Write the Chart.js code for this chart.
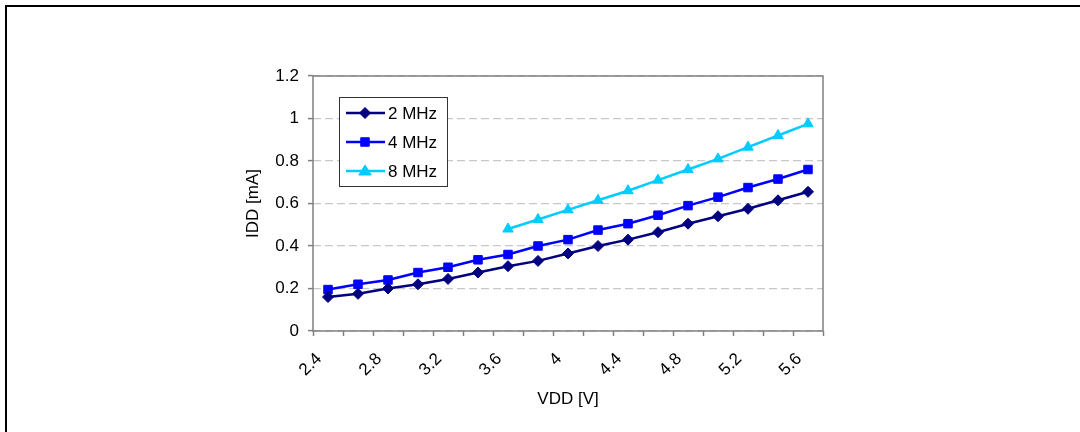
<!DOCTYPE html>
<html><head><meta charset="utf-8">
<script src="https://cdn.jsdelivr.net/npm/chart.js@4/dist/chart.umd.min.js"></script>
<style>
html,body{margin:0;padding:0;background:#fff;}
#wrap{position:relative;width:1080px;height:432px;overflow:hidden;background:#fff;}
#frame{position:absolute;left:5px;top:5px;width:1200px;height:600px;border-top:2px solid #000;border-left:2px solid #000;}
canvas{position:absolute;left:0;top:0;}
</style></head><body>
<div id="wrap"><div id="frame"></div><canvas id="c" width="1080" height="432"></canvas></div>
<script>
// ---- data ----
const categories = ['2.4','2.6','2.8','3','3.2','3.4','3.6','3.8','4','4.2','4.4','4.6','4.8','5','5.2','5.4','5.6'];
const shownTickLabels = ['2.4','2.8','3.2','3.6','4','4.4','4.8','5.2','5.6'];
const seriesNames = ['2 MHz','4 MHz','8 MHz'];
const idd2MHz = [0.16,0.175,0.2,0.22,0.245,0.275,0.305,0.33,0.365,0.4,0.43,0.465,0.505,0.54,0.575,0.615,0.655];
const idd4MHz = [0.195,0.22,0.24,0.275,0.3,0.335,0.36,0.4,0.43,0.475,0.505,0.545,0.59,0.63,0.675,0.715,0.76];
const idd8MHz = [null,null,null,null,null,null,0.48,0.525,0.57,0.615,0.66,0.71,0.76,0.81,0.865,0.92,0.975];
const yMin = 0, yMax = 1.2, yStep = 0.2;
const xTitle = 'VDD [V]';
const yTitle = 'IDD [mA]';

const FONT = "'Liberation Sans', Arial, sans-serif";
const colors = ['#000080','#0000FF','#00CCFF'];
const styles = ['rectRot','rect','triangle'];
const radii = [5.5,6,6];

function marker(ctx, style, x, y, r, color){
  ctx.save();
  ctx.fillStyle = color; ctx.strokeStyle = color; ctx.lineWidth = 1;
  ctx.beginPath();
  if (style === 'rectRot'){
    ctx.moveTo(x, y - r); ctx.lineTo(x + r, y); ctx.lineTo(x, y + r); ctx.lineTo(x - r, y); ctx.closePath();
  } else if (style === 'rect'){
    const s = r * Math.SQRT1_2; ctx.rect(x - s, y - s, 2*s, 2*s);
  } else {
    ctx.moveTo(x, y - r); ctx.lineTo(x + r*0.866 + 1, y + r*0.5 + 1); ctx.lineTo(x - r*0.866 - 1, y + r*0.5 + 1); ctx.closePath();
  }
  ctx.fill(); ctx.stroke();
  ctx.restore();
}

const framePlugin = {
  id:'plotFrame',
  beforeDatasetsDraw(chart){
    const {ctx, chartArea:a} = chart;
    ctx.save();
    ctx.strokeStyle = '#808080'; ctx.lineWidth = 1.5;
    ctx.strokeRect(a.left, a.top, a.right - a.left, a.bottom - a.top);
    ctx.restore();
  }
};

const legendPlugin = {
  id:'boxLegend',
  afterDraw(chart){
    const ctx = chart.ctx;
    const bx = 339, by = 97, bw = 108, bh = 89;
    ctx.save();
    ctx.fillStyle = '#fff';
    ctx.fillRect(bx, by, bw, bh);
    ctx.strokeStyle = '#333'; ctx.lineWidth = 1;
    ctx.strokeRect(bx + 0.5, by + 0.5, bw, bh);
    chart.data.datasets.forEach((ds, i) => {
      const yy = 113 + i * 29;
      ctx.strokeStyle = ds.borderColor; ctx.lineWidth = 2.5;
      ctx.beginPath(); ctx.moveTo(346, yy); ctx.lineTo(385, yy); ctx.stroke();
      marker(ctx, styles[i], 365, yy, radii[i], ds.borderColor);
      ctx.fillStyle = '#000'; ctx.font = '17px ' + FONT;
      ctx.textBaseline = 'middle'; ctx.textAlign = 'left';
      ctx.fillText(ds.label, 388, yy + 1);
    });
    ctx.restore();
  }
};

const series = [idd2MHz, idd4MHz, idd8MHz];
const datasets = series.map((d, i) => ({
  label: seriesNames[i], data: d,
  borderColor: colors[i], backgroundColor: colors[i],
  pointBackgroundColor: colors[i], pointBorderColor: colors[i],
  pointStyle: styles[i], pointRadius: radii[i], pointBorderWidth: 1,
  borderWidth: 2.5, tension: 0, spanGaps: false, fill: false
}));

new Chart(document.getElementById('c'), {
  type: 'line',
  data: { labels: categories, datasets },
  options: {
    responsive: false, animation: false, devicePixelRatio: 1,
    layout: { padding: { left: 240, right: 257, top: 76, bottom: 22 } },
    plugins: { legend: { display: false }, tooltip: { enabled: false }, title: { display: false } },
    scales: {
      x: {
        type: 'category', offset: true,
        grid: { offset: true, drawOnChartArea: false, drawTicks: true, tickLength: 5, tickColor: '#808080', tickWidth: 1.5 },
        border: { display: false },
        ticks: {
          autoSkip: false, maxRotation: 45, minRotation: 45, padding: 13, labelOffset: -9, color: '#000',
          font: { family: FONT, size: 17 },
          callback: function(v, i){ const l = categories[i]; return shownTickLabels.includes(l) ? l : ''; }
        },
        title: { display: true, text: xTitle, color: '#000', font: { family: FONT, size: 17 }, padding: 0 },
        afterFit: s => { s.height = 79; }
      },
      y: {
        min: yMin, max: yMax,
        ticks: { stepSize: yStep, padding: 9, color: '#000', font: { family: FONT, size: 17 },
          callback: v => String(Math.round(v * 10) / 10) },
        grid: { color: '#c8c8c8', lineWidth: 1.2, drawTicks: true, tickLength: 5, tickColor: '#808080', tickWidth: 1.5, tickBorderDash: [] },
        border: { display: false, dash: [8, 4] },
        title: { display: true, text: yTitle, color: '#000', font: { family: FONT, size: 17 }, padding: { top: 3, bottom: 0 } },
        afterFit: s => { s.width = 73; }
      }
    }
  },
  plugins: [framePlugin, legendPlugin]
});
</script>
</body></html>
